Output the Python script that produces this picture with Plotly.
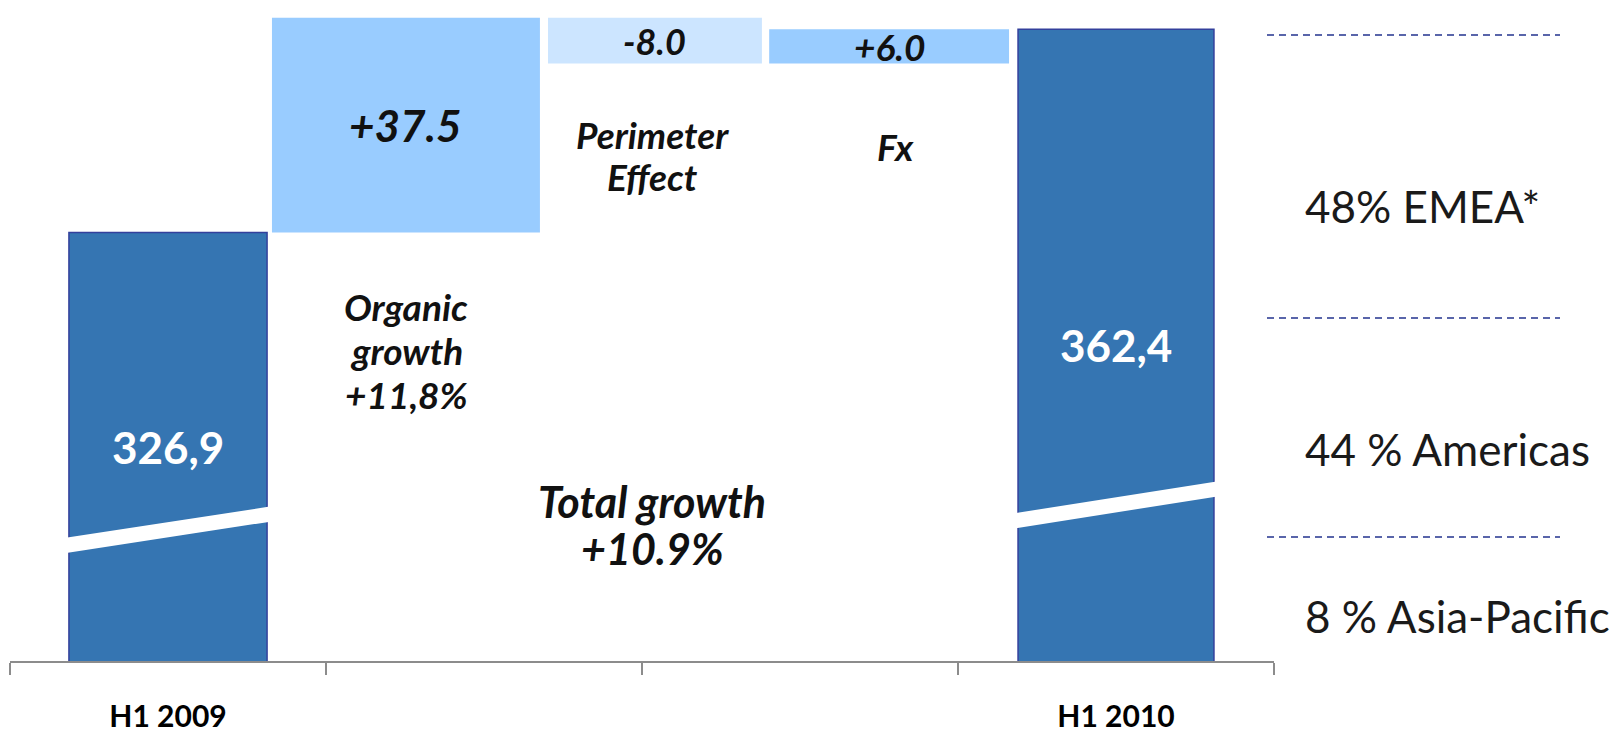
import plotly.graph_objects as go

# ---------------- data ----------------
categories = ["H1 2009", "Organic growth", "Perimeter Effect", "Fx", "H1 2010"]
values = [326.9, 37.5, -8.0, 6.0, 362.4]
measures = ["absolute", "relative", "relative", "relative", "total"]
value_labels = ["326,9", "+37.5", "-8.0", "+6.0", "362,4"]
tick_labels = ["H1 2009", "H1 2010"]
step_notes = ["Organic<br>growth<br>+11,8%", "Perimeter<br>Effect", "Fx"]
total_note = "Total growth<br>+10.9%"
region_labels = ["48% EMEA*", "44 % Americas", "8 % Asia-Pacific"]

# ---------------- layout constants ----------------
FONT = "Lato"
W, H = 1620, 735
ML, MR, MT, MB = 10, 346, 0, 74
YMIN, YMAX = 252.15, 367.49
x_pos = [0.5, 1.253, 2.041, 2.782, 3.5]
widths = [0.627, 0.848, 0.677, 0.759, 0.620]

DARK = "#3575B2"
EDGE = "#33409C"
LIGHT = "#99CCFF"
PALE = "#CCE5FF"

fig = go.Figure()
fig.add_trace(go.Waterfall(
    x=x_pos, y=values, measure=measures, width=widths,
    connector=dict(visible=False),
    increasing=dict(marker=dict(color=LIGHT, line=dict(width=0))),
    decreasing=dict(marker=dict(color=PALE, line=dict(width=0))),
    totals=dict(marker=dict(color=DARK, line=dict(color=EDGE, width=1.5))),
    hoverinfo="skip", showlegend=False,
))

# label levels computed from the data
levels = []
cum = 0.0
for v, m in zip(values, measures):
    if m == "absolute":
        cum = v
        levels.append(((YMIN + cum) / 2, True))
    elif m == "total":
        levels.append(((YMIN + cum) / 2, True))
    else:
        start = cum
        cum = cum + v
        levels.append(((start + cum) / 2, False))

annotations = []
label_sizes = [44, 44, 36, 37, 44]
for i, (lab, (ymid, is_sum)) in enumerate(zip(value_labels, levels)):
    if is_sum:
        txt, col = f"<b>{lab}</b>", "white"
    else:
        txt, col = f"<b><i>{lab}</i></b>", "#111111"
    annotations.append(dict(x=x_pos[i], y=ymid, xref="x", yref="y", text=txt,
                            showarrow=False, font=dict(family=FONT, size=label_sizes[i], color=col),
                            xanchor="center", yanchor="middle"))

# pixel -> paper helpers
def px2paper_x(px):
    return (px - ML) / (W - ML - MR)

def px2paper_y(py):
    return (H - MB - py) / (H - MT - MB)

# multi-line notes, one annotation per line to control spacing
note_specs = [(406, [306, 350, 394], 37), (652, [134, 177], 37), (895, [147], 37)]
for txt, (px, ys, sz) in zip(step_notes, note_specs):
    for line, py in zip(txt.split("<br>"), ys):
        annotations.append(dict(x=px2paper_x(px), y=px2paper_y(py), xref="paper", yref="paper",
                                text=f"<b><i>{line}</i></b>", showarrow=False,
                                font=dict(family=FONT, size=sz, color="#111111"),
                                xanchor="center", yanchor="middle"))
for line, py in zip(total_note.split("<br>"), [501, 548]):
    annotations.append(dict(x=px2paper_x(652), y=px2paper_y(py), xref="paper", yref="paper",
                            text=f"<b><i>{line}</i></b>", showarrow=False,
                            font=dict(family=FONT, size=43, color="#111111"),
                            xanchor="center", yanchor="middle"))

# region labels on the right
for txt, py in zip(region_labels, [206, 449, 616]):
    annotations.append(dict(x=px2paper_x(1303), y=px2paper_y(py), xref="paper", yref="paper",
                            text=txt, showarrow=False,
                            font=dict(family=FONT, size=44, color="#1a1a1a"),
                            xanchor="left", yanchor="middle"))

shapes = []
for py in [35, 318, 537]:
    shapes.append(dict(type="line", xref="paper", yref="paper",
                       x0=px2paper_x(1267), x1=px2paper_x(1560),
                       y0=px2paper_y(py), y1=px2paper_y(py),
                       line=dict(color="#23338F", width=1.6, dash="7px,5px")))

# axis-break slashes across the two total bars
break_marks = [(0, 272.3, 277.8), (4, 276.6, 282.2)]
for idx, y_left, y_right in break_marks:
    xl = x_pos[idx] - widths[idx] / 2 - 0.012
    xr = x_pos[idx] + widths[idx] / 2 + 0.012
    shapes.append(dict(type="line", xref="x", yref="y", x0=xl, x1=xr,
                       y0=y_left, y1=y_right, line=dict(color="white", width=15)))

fig.update_layout(
    width=W, height=H,
    margin=dict(l=ML, r=MR, t=MT, b=MB, autoexpand=False),
    paper_bgcolor="white", plot_bgcolor="white",
    showlegend=False,
    annotations=annotations, shapes=shapes,
    xaxis=dict(range=[0, 4], tickmode="array", tickvals=[0.5, 3.5],
               ticktext=[f"<b>{t}</b>" for t in tick_labels],
               ticks="", showgrid=False, zeroline=False,
               showline=True, linecolor="#8c8c8c", linewidth=2,
               tickfont=dict(family=FONT, size=30, color="#000000"),
               ticklabelstandoff=28,
               minor=dict(tickvals=[0, 1, 2, 3, 4], ticks="outside", ticklen=12,
                          tickwidth=1.5, tickcolor="#8c8c8c", showgrid=False)),
    yaxis=dict(range=[YMIN, YMAX], visible=False, showgrid=False, zeroline=False),
)

fig.write_html(
    "out.html",
    config={"displayModeBar": False},
    post_script="document.body.style.margin='0';document.documentElement.style.overflow='hidden';",
)
